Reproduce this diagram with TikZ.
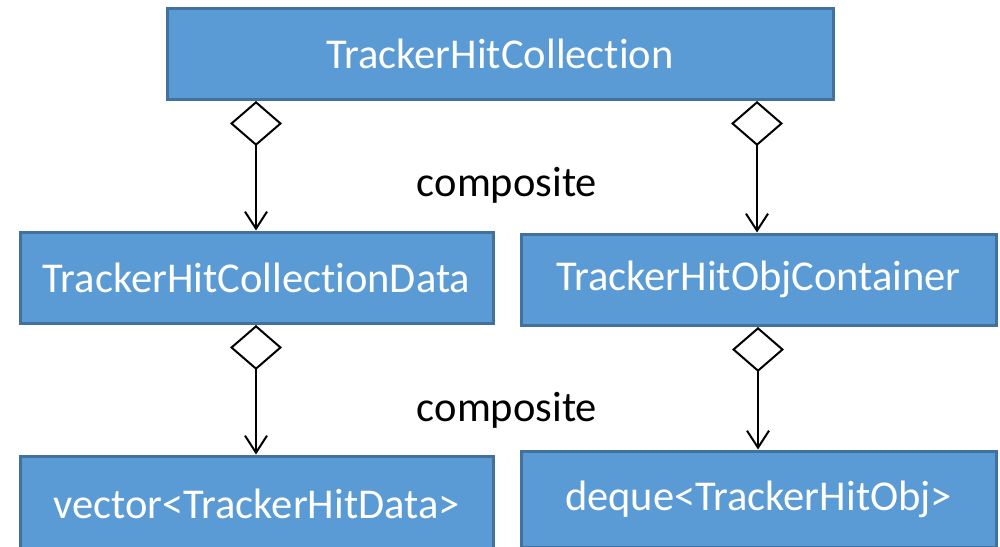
\documentclass[tikz,border=0pt]{standalone}
\usepackage{fontspec}
\setmainfont[Ligatures=NoCommon]{Carlito}
\usetikzlibrary{arrows.meta}
\definecolor{boxfill}{HTML}{5B9BD5}
\definecolor{boxline}{HTML}{41719C}
\begin{document}
\begin{tikzpicture}[x=1pt,y=-1pt,
  box/.style={draw=boxline,line width=3pt,fill=boxfill,text=white,
    font=\fontsize{42.5}{48}\selectfont,inner sep=0pt,minimum height=91pt},
  lbl/.style={text=black,font=\fontsize{42.5}{48}\selectfont,inner sep=0pt},
  comp/.style={line width=2pt,
    {Diamond[open,length=45pt,width=52pt,line width=2pt]}-{Straight Barb[length=17pt,width=22pt,line width=2pt]}}]
\useasboundingbox (0,0) rectangle (1000,546);
\clip (0,0) rectangle (1000,546);
\node[box,minimum width=666pt] (top) at (500,53.5) {TrackerHitCollection};
\node[box,minimum width=473pt] (data) at (256.5,277.5) {TrackerHitCollectionData};
\node[box,minimum width=475pt] (cont) at (758.5,279.5) {TrackerHitObjContainer};
\node[box,minimum width=473pt,minimum height=96pt] (vec) at (256.5,504) {vector<TrackerHitData>};
\node[box,minimum width=475pt,minimum height=96pt] (deq) at (758.5,499) {deque<TrackerHitObj>};
\node[lbl] (c1) at (507,185) {composite};
\node[lbl] (c2) at (507,410) {composite};
\coordinate (a1) at (256,101);
\coordinate (a2) at (757,101);
\coordinate (a3) at (256,325);
\coordinate (a4) at (758,327);
\draw[comp] (a1) -- (a1 |- data.north);
\draw[comp] (a2) -- (a2 |- cont.north);
\draw[comp] (a3) -- (a3 |- vec.north);
\draw[comp] (a4) -- (a4 |- deq.north);
\end{tikzpicture}
\end{document}
